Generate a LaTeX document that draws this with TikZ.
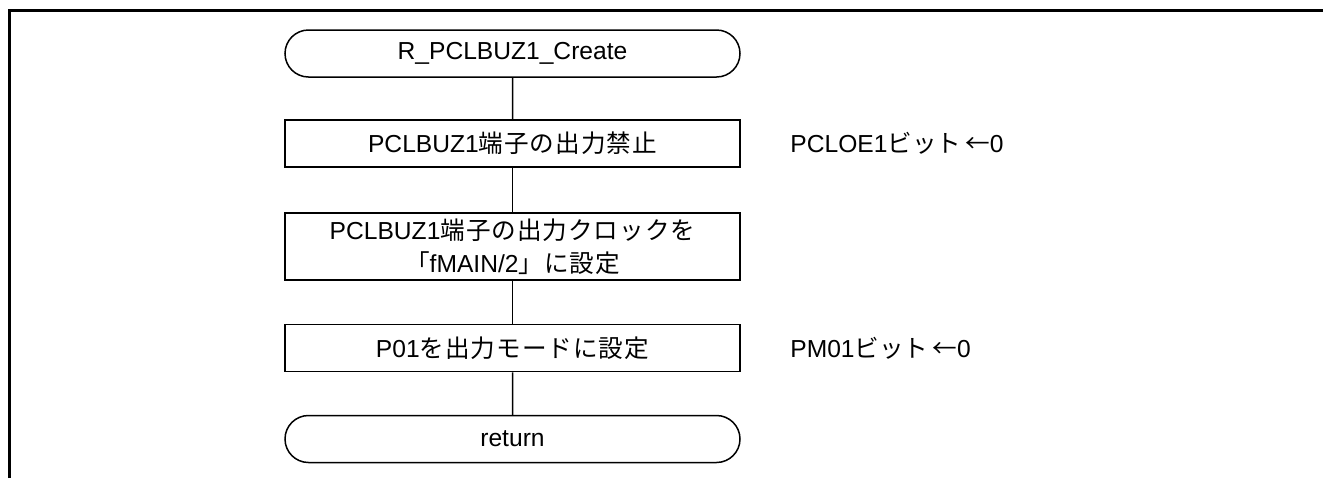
\documentclass[tikz,border=0pt]{standalone}
\usepackage{fontspec}
\setmainfont{Liberation Sans}
\newfontfamily\jp[LetterSpace=4]{Noto Sans CJK JP}
\newfontfamily\jpnote{Noto Sans CJK JP}
\usepackage{tikz}
\usetikzlibrary{shapes.misc}
\tikzset{>=stealth}
\tikzset{
  termbox/.style={draw,line width=0.75pt,rounded rectangle,minimum width=227.5pt,minimum height=23.5pt,inner sep=0pt},
  procbox/.style={draw,line width=0.75pt,rectangle,minimum width=227.5pt,minimum height=23.5pt,inner sep=0pt,align=center},
  note/.style={anchor=west,inner sep=0pt},
  flow/.style={line width=0.75pt}
}

\begin{document}
\begin{tikzpicture}[x=0.5pt,y=-0.5pt,font=\fontsize{12.3}{16.5}\selectfont]
\useasboundingbox (0,0) rectangle (1323,478);
\draw[line width=1.5pt] (9,478)--(9,10.5)--(1323,10.5);
    \node[termbox] (start) at (512.5,53.5) {R\_PCLBUZ1\_Create};
    \node[procbox] (pcloe) at (512.5,143.5) {PCLBUZ1{\jp 端子の出力禁止}};
    \node[procbox,minimum height=33.5pt] (clock) at (512.5,246.5) {PCLBUZ1{\jp 端子の出力クロックを}\\{\jp 「}fMAIN/2{\jp 」に設定}};
    \node[procbox] (pmode) at (512.5,348) {P01{\jp を出力モードに設定}};
    \node[termbox] (ret) at (512.5,439) {return};
    \node[note] (pcloenote) at (790,143.5) {PCLOE1{\jpnote ビット}\,{\jpnote ←}0};
    \node[note] (pmodenote) at (790,348) {PM01{\jpnote ビット}\,{\jpnote ←}0};
    \draw[flow] (start)--(pcloe);
    \draw[flow] (pcloe)--(clock);
    \draw[flow] (clock)--(pmode);
    \draw[flow] (pmode)--(ret);
\end{tikzpicture}
\end{document}
